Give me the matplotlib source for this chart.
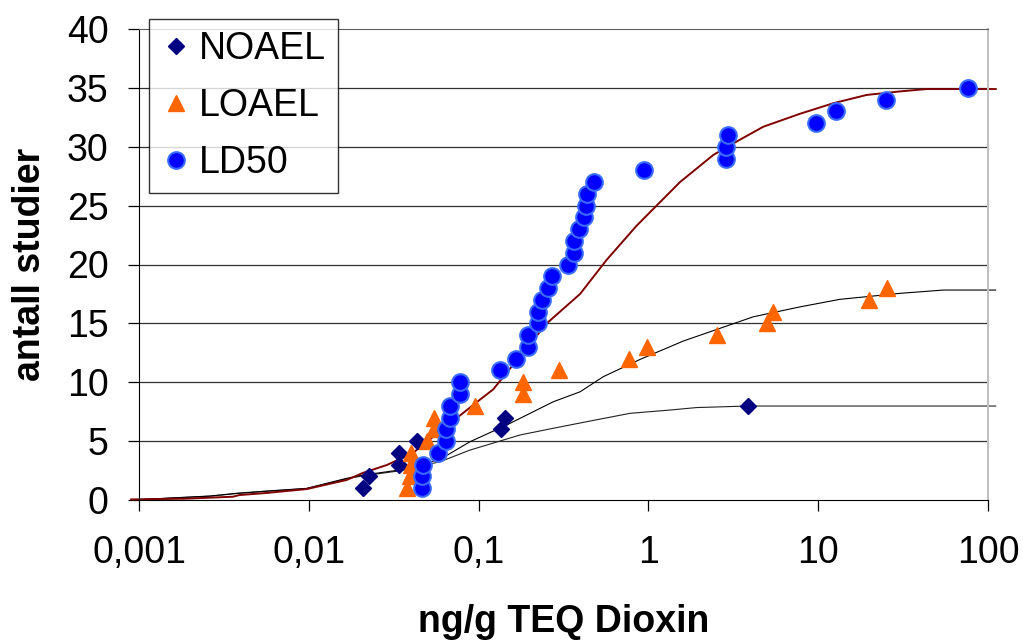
import matplotlib
matplotlib.use('Agg')
import matplotlib.pyplot as plt

plt.rcParams['font.family'] = ['Liberation Sans', 'DejaVu Sans']

# observed studies (cumulative count vs. dose)
noael_x = [0.0208, 0.0226, 0.034, 0.034, 0.0434, 0.1355, 0.143, 3.86]
noael_y = [1, 2, 3, 4, 5, 6, 7, 8]

loael_x = [0.0377, 0.0394, 0.040, 0.040, 0.0494, 0.0548, 0.0548, 0.0952, 0.182,
           0.182, 0.2975, 0.769, 0.977, 2.52, 4.97, 5.40, 19.9, 25.5]
loael_y = [1, 2, 3, 4, 5, 6, 7, 8, 9, 10, 11, 12, 13, 14, 15, 16, 17, 18]

ld50_x = [0.0466, 0.0466, 0.0473, 0.0574, 0.064, 0.064, 0.0676, 0.0676, 0.0777,
          0.0777, 0.1336, 0.166, 0.1945, 0.1945, 0.2228, 0.2228, 0.2353, 0.2553,
          0.2693, 0.335, 0.3648, 0.3648, 0.3917, 0.4176, 0.429, 0.4368, 0.4784,
          0.942, 2.864, 2.864, 2.93, 9.70, 12.7, 25.1, 75.9]
ld50_y = [1, 2, 3, 4, 5, 6, 7, 8, 9, 10, 11, 12, 13, 14, 15, 16, 17, 18, 19, 20,
          21, 22, 23, 24, 25, 26, 27, 28, 29, 30, 31, 32, 33, 34, 35]

# fitted curves
ld50_fit_x = [0.0009, 0.00187, 0.00358, 0.0039, 0.00566, 0.00974, 0.0167, 0.0208,
              0.0288, 0.0411, 0.0678, 0.0974, 0.122, 0.160, 0.252, 0.396, 0.568,
              0.853, 1.535, 2.41, 3.46, 4.75, 7.81, 12.3, 19.3, 30.3, 43.5, 111]
ld50_fit_y = [0.05, 0.11, 0.28, 0.42, 0.6, 0.93, 1.7, 2.3, 2.97, 4.0, 6.5, 8.3, 9.4,
              11.5, 15.0, 17.5, 20.4, 23.3, 27.0, 29.3, 30.6, 31.7, 32.8, 33.7,
              34.4, 34.7, 34.9, 34.9]

loael_fit_x = [0.0009, 0.00262, 0.00376, 0.00565, 0.00972, 0.0167, 0.0209, 0.0344,
               0.0593, 0.089, 0.1464, 0.275, 0.396, 0.542, 0.893, 1.605, 2.64,
               4.15, 7.81, 13.4, 30.3, 54.6, 111]
loael_fit_y = [0.0, 0.34, 0.57, 0.76, 0.99, 1.84, 2.12, 2.55, 3.45, 4.95, 6.37,
               8.34, 9.19, 10.47, 11.94, 13.5, 14.58, 15.56, 16.4, 17.04, 17.55,
               17.83, 17.83]

noael_fit_x = [0.0009, 0.00262, 0.00376, 0.00565, 0.00972, 0.0167, 0.0209, 0.0344,
               0.0593, 0.089, 0.1753, 0.275, 0.433, 0.779, 1.34, 1.92, 3.81, 111]
noael_fit_y = [0.0, 0.32, 0.55, 0.74, 0.97, 1.8, 2.06, 2.48, 3.25, 4.24, 5.52,
               6.09, 6.65, 7.36, 7.64, 7.85, 7.98, 7.98]

x_ticks = [0.001, 0.01, 0.1, 1, 10, 100]
x_ticklabels = ['0,001', '0,01', '0,1', '1', '10', '100']
y_ticks = [0, 5, 10, 15, 20, 25, 30, 35, 40]

fs = 27

fig = plt.figure(figsize=(10.23, 6.4), dpi=100)
ax = fig.add_axes([139 / 1023, 1 - 500 / 640, 849 / 1023, 471 / 640])

ax.set_xscale('log')
ax.set_xlim(0.001, 100)
ax.set_ylim(0, 40)

for y in y_ticks[1:-1]:
    ax.axhline(y, color='#303030', lw=0.9, zorder=1)

ax.plot(noael_fit_x, noael_fit_y, color='#222222', lw=0.8, zorder=2, clip_on=False)
ax.plot(loael_fit_x, loael_fit_y, color='black', lw=0.8, zorder=2, clip_on=False)
ax.plot(ld50_fit_x, ld50_fit_y, color='#800000', lw=1.4, zorder=2, clip_on=False)

ax.plot(noael_x, noael_y, 'D', color='#000080', ms=8, ls='none', label='NOAEL', zorder=3)
ax.plot(loael_x, loael_y, '^', color='#FF6600', ms=11, ls='none', label='LOAEL', zorder=3)
ax.plot(ld50_x, ld50_y, 'o', mfc='#0000FF', mec='#3A6BFF', mew=1.5, ms=12, ls='none',
        label='LD50', zorder=3)

ax.set_xticks(x_ticks)
ax.set_xticklabels(x_ticklabels)
ax.minorticks_off()
ax.set_yticks(y_ticks)
ax.tick_params(axis='x', direction='out', length=8, width=0.9, pad=17, labelsize=fs)
ax.tick_params(axis='y', direction='out', length=8, width=0.9, pad=14, labelsize=fs)

ax.spines['top'].set_color('#606060')
ax.spines['right'].set_color('#c0c0c0')
ax.spines['right'].set_linewidth(1.5)

ax.set_xlabel('ng/g TEQ Dioxin', fontsize=fs, fontweight='bold', va='center')
ax.xaxis.set_label_coords(0.5, (500 - 622) / 471)
ax.set_ylabel('antall studier', fontsize=fs, fontweight='bold', va='center')
ax.yaxis.set_label_coords((30 - 139) / 849, 0.5)

leg = fig.legend(loc='upper left', bbox_to_anchor=(149 / 1023, 1 - 19 / 640),
                 fontsize=fs, frameon=True, fancybox=False, borderpad=0.32,
                 handlelength=0.8, handletextpad=0.2, labelspacing=0.56,
                 numpoints=1, borderaxespad=0)
leg.get_frame().set_edgecolor('black')
leg.get_frame().set_linewidth(1.0)

fig.savefig('out.png', dpi=100)
